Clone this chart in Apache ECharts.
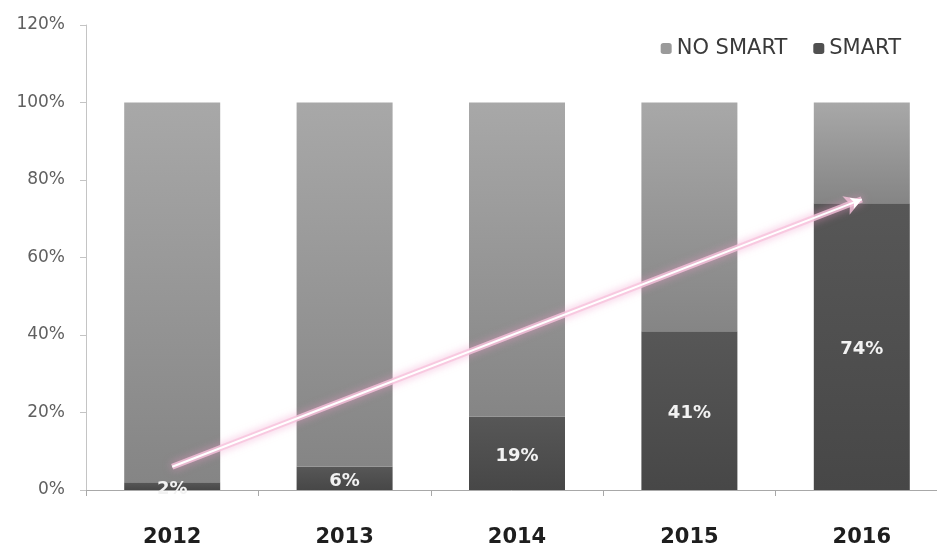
<!DOCTYPE html>
<html>
<head>
<meta charset="utf-8">
<script src="https://cdn.jsdelivr.net/npm/echarts@6/dist/echarts.min.js"></script>
<style>
  html, body { margin: 0; padding: 0; background: #fff; }
  #chart { width: 937px; height: 547px; }
</style>
</head>
<body>
<div id="chart"></div>
<script>
// Share of smart vs. non-smart units per year (percent)
const years = ['2012', '2013', '2014', '2015', '2016'];
const smart = [2, 6, 19, 41, 74];
const noSmart = [98, 94, 81, 59, 26];
const yTicks = [0, 20, 40, 60, 80, 100, 120];
// Trend arrow endpoints: [category, percent]
const trendStart = ['2012', 6];
const trendEnd = ['2016', 75];

const FONT = '"DejaVu Sans", "Liberation Sans", sans-serif';

const grad = (top, bottom) => new echarts.graphic.LinearGradient(0, 0, 0, 1, [
  { offset: 0, color: top },
  { offset: 1, color: bottom }
]);

const chart = echarts.init(document.getElementById('chart'));
chart.setOption({
  animation: false,
  backgroundColor: '#ffffff',
  grid: {
    left: 86, top: 25, bottom: 57, width: 862,
    containLabel: false,
    outerBoundsMode: 'none'
  },
  legend: {
    right: 31,
    top: 33,
    itemWidth: 11,
    itemHeight: 11,
    itemGap: 26,
    textStyle: { fontFamily: FONT, fontSize: 21, color: '#3a3a3a' },
    data: [
      { name: 'NO SMART', itemStyle: { color: '#9a9a9a' } },
      { name: 'SMART', itemStyle: { color: '#505050' } }
    ]
  },
  xAxis: {
    type: 'category',
    data: years,
    axisLine: { lineStyle: { color: '#a8a8a8', width: 1 } },
    axisTick: { show: true, length: 6, lineStyle: { color: '#a8a8a8' } },
    axisLabel: { fontFamily: FONT, fontSize: 21, fontWeight: 'bold', color: '#1e1e1e', margin: 37 }
  },
  yAxis: {
    type: 'value',
    min: yTicks[0],
    max: yTicks[yTicks.length - 1],
    interval: 20,
    splitLine: { show: false },
    axisLine: { show: true, lineStyle: { color: '#c4c4c4', width: 1 } },
    axisTick: { show: true, length: 6, lineStyle: { color: '#c4c4c4' } },
    axisLabel: { fontFamily: FONT, fontSize: 17, color: '#606060', margin: 21, formatter: '{value}%' }
  },
  series: [
    {
      name: 'SMART',
      type: 'bar',
      stack: 'total',
      barWidth: 96,
      data: smart,
      itemStyle: { color: grad('#575757', '#474747') },
      label: {
        show: true,
        position: 'inside',
        offset: [0, 3],
        formatter: '{c}%',
        fontFamily: FONT,
        fontSize: 18,
        fontWeight: 'bold',
        color: '#f2f2f2'
      },
      z: 2
    },
    {
      name: 'NO SMART',
      type: 'bar',
      stack: 'total',
      barWidth: 96,
      data: noSmart,
      itemStyle: { color: grad('#a8a8a8', '#858585') },
      z: 2,
      markLine: {
        silent: true,
        symbol: ['none', 'arrow'],
        symbolSize: [15, 17],
        label: { show: false },
        z: 5,
        lineStyle: {
          type: 'solid',
          color: '#f7c3dc',
          width: 6,
          opacity: 0.8,
          shadowColor: 'rgba(240,150,200,0.75)',
          shadowBlur: 9
        },
        data: [[
          { coord: trendStart },
          { coord: trendEnd }
        ]]
      }
    },
    {
      // thin bright core drawn over the pink glow of the trend arrow
      name: 'trendCore',
      type: 'line',
      data: [],
      z: 6,
      markLine: {
        silent: true,
        symbol: ['none', 'arrow'],
        symbolSize: [9, 11],
        label: { show: false },
        lineStyle: { type: 'solid', color: '#ffffff', width: 2, opacity: 1 },
        data: [[
          { coord: trendStart },
          { coord: trendEnd }
        ]]
      }
    }
  ]
});
</script>
</body>
</html>
